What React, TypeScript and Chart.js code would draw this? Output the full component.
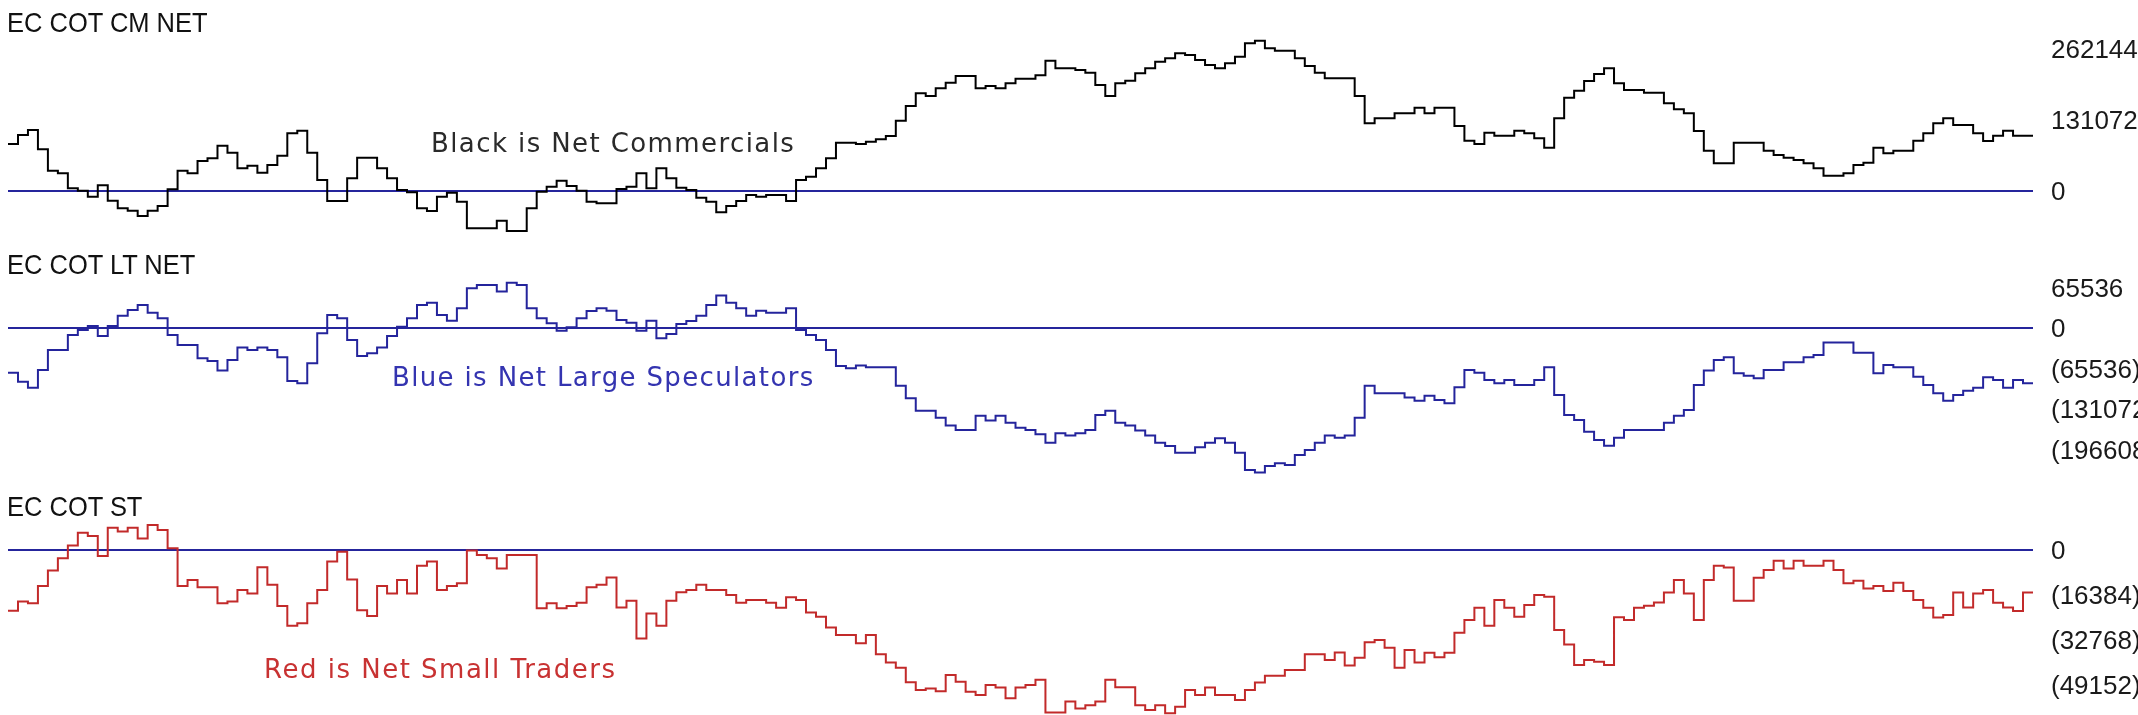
import React, { useEffect, useRef } from "react";
import { Chart, registerables } from "chart.js";

Chart.register(...registerables);

// ---- DATA (weekly net positions, step series) ----
const commercialsNet: number[] = [
  86700, 103300, 112500, 76900, 37500, 32600, 4900, 600, -10500, 10500,
  -17800, -32000, -36300, -46100, -36300, -27700, 3100, 37500, 32600, 55400,
  60300, 83600, 70700, 41800, 46700, 33800, 48000, 65200, 106400, 111300,
  70700, 20300, -18500, -18500, 23400, 61500, 61500, 41800, 23400, 1800,
  -2500, -32000, -36900, -10500, -3100, -19700, -68900, -68900, -68900, -54700,
  -73800, -73800, -32000, -1200, 8000, 19100, 9200, 600, -19700, -22800,
  -22800, 3700, 8000, 32600, 4900, 41800, 23400, 6200, 1800, -12300,
  -19700, -39400, -27700, -18500, -7400, -10500, -7400, -7400, -18500, 20300,
  26400, 41800, 60300, 89200, 89200, 86700, 91000, 95300, 101500, 129800,
  156800, 180200, 175300, 189400, 199900, 212200, 212200, 189400, 193700, 189400,
  198600, 207300, 207300, 213400, 240500, 226300, 226300, 223200, 218300, 195600,
  175300, 198600, 203600, 217100, 226300, 238600, 244800, 254000, 250900, 241700,
  232500, 226300, 235500, 247800, 272400, 277400, 263200, 258900, 258900, 244800,
  230600, 218300, 207900, 207900, 207900, 175300, 124800, 134100, 134100, 143300,
  143300, 153800, 143300, 153800, 153800, 119900, 92900, 86700, 107600, 102100,
  102100, 111300, 106400, 97200, 80000, 134100, 172200, 185100, 203000, 215900,
  226300, 198600, 186300, 186300, 181400, 181400, 161700, 150700, 143300, 110700,
  74400, 51000, 51000, 89200, 89200, 89200, 74400, 66400, 61500, 57200,
  51000, 41800, 28300, 28300, 32600, 48000, 52300, 80000, 69500, 74400,
  74400, 92900, 106400, 124800, 134100, 121800, 121800, 106400, 92300, 102100,
  111300, 102100, 102100,
];

const largeSpecNet: number[] = [
  -71900, -86500, -96200, -67600, -35100, -35100, -10800, -2700, 3800, -12400,
  3800, 20500, 29700, 37800, 25400, 16200, -10800, -27000, -27000, -48600,
  -53000, -68600, -51300, -31300, -35100, -31300, -35100, -47000, -85400, -89200,
  -56800, -8100, 21600, 16200, -18900, -44900, -40500, -31300, -12400, 2700,
  16200, 37800, 41600, 21600, 12400, 32400, 64900, 70300, 70300, 59500,
  74000, 70300, 32400, 16200, 8100, -3800, 1600, 16200, 28100, 32400,
  28600, 13500, 9200, -3800, 12400, -16200, -9200, 7000, 11900, 20500,
  37800, 53000, 41600, 32400, 20500, 28600, 25400, 25400, 32400, -2700,
  -10800, -18900, -35100, -61100, -64900, -60500, -63200, -63200, -63200, -93000,
  -113500, -133500, -133500, -144900, -157800, -164900, -164900, -141600, -149700, -141600,
  -153000, -161100, -164900, -171900, -185400, -170300, -174000, -170300, -164900, -140500,
  -133500, -153000, -157800, -165900, -174000, -185400, -190800, -201600, -201600, -193000,
  -185400, -178400, -185400, -201600, -229700, -234000, -223200, -218900, -221600, -205400,
  -197300, -185400, -174000, -177300, -174000, -144900, -93000, -105400, -105400, -105400,
  -112400, -117300, -109200, -116200, -121600, -95700, -67600, -71900, -83800, -89200,
  -83800, -91900, -91900, -83800, -63200, -108100, -140500, -148600, -167600, -181100,
  -190300, -177300, -164900, -164900, -164900, -164900, -153000, -141600, -132400, -91900,
  -68600, -51300, -47000, -73000, -76800, -81100, -67600, -67600, -55100, -55100,
  -47000, -43200, -23200, -23200, -23200, -39500, -39500, -73000, -59500, -63200,
  -63200, -78400, -91900, -105400, -117300, -108100, -101100, -96200, -79500, -83800,
  -96200, -83800, -89200,
];

const smallTradersNet: number[] = [
  -22100, -18800, -19400, -13100, -7500, -3000, 1600, 6300, 5100, -2200,
  8100, 6700, 8100, 4200, 9100, 7300, 600, -13100, -10900, -13600,
  -13600, -19400, -18800, -14600, -15800, -6300, -12700, -20400, -27600, -26700,
  -19400, -14600, -4200, -600, -10700, -21900, -24000, -13100, -15800, -10900,
  -15800, -5700, -4200, -14600, -13100, -12100, -200, -1800, -3000, -6700,
  -1800, -1800, -1800, -21200, -19400, -21200, -20400, -19200, -13600, -12700,
  -10000, -20900, -18500, -32200, -23100, -27600, -18500, -15400, -14600, -12700,
  -14600, -14600, -16400, -19200, -18200, -18200, -19200, -21000, -17200, -18200,
  -22800, -24300, -28200, -31000, -31000, -34000, -31000, -38000, -41000, -42900,
  -48200, -51000, -50400, -51400, -45500, -48000, -51600, -52800, -49200, -50100,
  -54000, -50100, -49200, -47300, -59200, -59200, -55200, -57700, -56500, -55200,
  -47300, -50000, -50000, -56500, -58300, -56500, -59500, -57100, -51000, -52800,
  -50100, -52800, -52800, -54600, -51000, -48300, -45800, -45800, -43700, -43700,
  -38000, -38000, -40100, -37300, -42100, -39200, -33600, -32800, -35600, -42900,
  -36400, -41000, -37400, -39100, -37400, -30100, -25500, -21000, -27600, -18200,
  -21000, -24300, -20000, -16400, -17000, -29100, -34400, -41900, -40100, -40700,
  -41900, -24500, -25500, -21000, -20300, -19100, -15500, -10900, -15800, -25500,
  -10900, -5700, -6400, -18500, -18500, -10100, -7300, -3900, -6700, -3900,
  -5700, -5700, -3900, -7300, -12100, -11200, -14000, -13100, -14900, -11900,
  -14900, -18200, -21000, -24600, -23700, -15500, -20900, -15800, -14600, -19200,
  -20900, -22200, -15500,
];

const cmTicks: number[] = [262144, 131072, 0];
const ltTicks: number[] = [65536, 0, -65536, -131072, -196608];
const stTicks: number[] = [0, -16384, -32768, -49152];

const panelTitles: string[] = ["EC COT CM NET", "EC COT LT NET", "EC COT ST"];
const noteTexts: string[] = [
  "Black is Net Commercials",
  "Blue is Net Large Speculators",
  "Red is Net Small Traders",
];

// ---- LAYOUT / STYLE ----
const W = 2138;
const H = 715;
const PAD_TOP = 40;
const PAD_BOTTOM = 40;
const AXIS_W = 105;
const LABEL_FONT = "'Liberation Sans', Arimo, Arial, sans-serif";
const NAVY = "#25259c";

const fmt = (v: number) => (v < 0 ? `(${-v})` : `${v}`);

type PanelProps = {
  values: number[];
  color: string;
  ticks: number[];
  zeroY: number;
  perPx: number;
};

function Panel({ values, color, ticks, zeroY, perPx }: PanelProps) {
  const ref = useRef<HTMLCanvasElement | null>(null);
  useEffect(() => {
    if (!ref.current) return;
    const series = [...values, values[values.length - 1]];
    const labels = series.map((_, i) => String(i + 1));
    const max = (zeroY - PAD_TOP) * perPx;
    const min = (zeroY - (H - PAD_BOTTOM)) * perPx;
    const chart = new Chart(ref.current, {
      type: "line",
      data: {
        labels,
        datasets: [
          {
            data: series,
            borderColor: color,
            borderWidth: 2,
            stepped: true,
            pointRadius: 0,
            fill: false,
            clip: false as any,
            tension: 0,
          },
        ],
      },
      options: {
        animation: false,
        responsive: false,
        maintainAspectRatio: false,
        events: [],
        layout: { padding: { left: 8, right: 0, top: PAD_TOP, bottom: PAD_BOTTOM } },
        plugins: { legend: { display: false }, tooltip: { enabled: false }, title: { display: false } },
        scales: {
          x: { type: "category", display: false, offset: false },
          y: {
            type: "linear",
            position: "right",
            min,
            max,
            afterBuildTicks: (s: any) => {
              s.ticks = ticks.map((v) => ({ value: v }));
            },
            afterFit: (s: any) => {
              s.width = AXIS_W;
            },
            border: { display: false },
            grid: {
              drawTicks: false,
              lineWidth: 2,
              color: (ctx: any) => (ctx.tick && ctx.tick.value === 0 ? NAVY : "rgba(0,0,0,0)"),
            },
            ticks: {
              padding: 18,
              labelOffset: 2,
              color: "#1a1a1a",
              autoSkip: false,
              font: { family: LABEL_FONT, size: 26 },
              callback: (v: any) => fmt(Number(v)),
            },
          },
        },
      },
    });
    return () => chart.destroy();
  }, []);
  return (
    <canvas
      ref={ref}
      width={W}
      height={H}
      style={{ position: "absolute", left: 0, top: 0, width: W, height: H }}
    />
  );
}

const titleStyle = (top: number): React.CSSProperties => ({
  position: "absolute",
  left: 7,
  top,
  fontFamily: LABEL_FONT,
  fontSize: 28,
  lineHeight: "28px",
  color: "#111",
  whiteSpace: "nowrap",
  transform: "scaleX(0.91)",
  transformOrigin: "0 0",
});

const noteStyle = (left: number, top: number, color: string, ls: number): React.CSSProperties => ({
  position: "absolute",
  left,
  top,
  fontFamily: "'DejaVu Sans', Verdana, sans-serif",
  fontSize: 26,
  lineHeight: "26px",
  letterSpacing: `${ls}px`,
  color,
  whiteSpace: "nowrap",
});

export default function App() {
  return (
    <div
      style={{
        position: "fixed",
        left: 0,
        top: 0,
        width: W,
        height: H,
        background: "#ffffff",
        overflow: "hidden",
      }}
    >
      <Panel values={commercialsNet} color="#000000" ticks={cmTicks} zeroY={191} perPx={1845} />
      <Panel values={largeSpecNet} color="#24249c" ticks={ltTicks} zeroY={328.3} perPx={1621.5} />
      <Panel values={smallTradersNet} color="#c22a2a" ticks={stTicks} zeroY={550} perPx={364.2} />
      <div style={titleStyle(9)}>{panelTitles[0]}</div>
      <div style={titleStyle(251)}>{panelTitles[1]}</div>
      <div style={titleStyle(493)}>{panelTitles[2]}</div>
      <div style={noteStyle(431, 130, "#2a2a2a", 1.4)}>{noteTexts[0]}</div>
      <div style={noteStyle(392, 364, "#3434b0", 1.35)}>{noteTexts[1]}</div>
      <div style={noteStyle(264, 656, "#c83232", 1.5)}>{noteTexts[2]}</div>
    </div>
  );
}
